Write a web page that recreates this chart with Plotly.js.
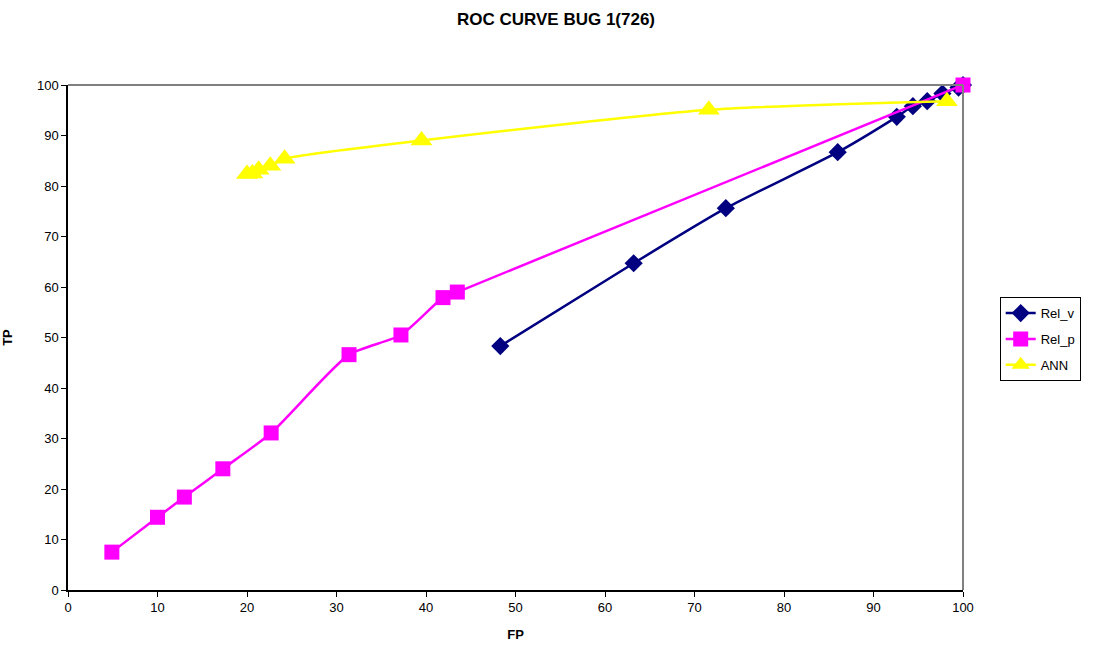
<!DOCTYPE html>
<html><head><meta charset="utf-8">
<script src="https://cdn.plot.ly/plotly-3.0.1.min.js"></script>
<style>body{margin:0;background:#fff}#c{width:1112px;height:649px}</style>
</head><body><div id="c"></div>
<script>
const relvFP = [48.3, 63.2, 73.5, 86.0, 92.6, 94.4, 96.0, 97.7, 99.5, 100];
const relvTP = [48.3, 64.7, 75.6, 86.7, 93.7, 95.8, 96.8, 98.3, 99.5, 100];
const relpFP = [4.9, 10.0, 13.0, 17.3, 22.7, 31.4, 37.2, 41.9, 43.5, 100];
const relpTP = [7.5, 14.4, 18.4, 24.0, 31.1, 46.6, 50.5, 57.9, 59.0, 100];
const annFP = [20.0, 20.6, 21.3, 22.6, 24.2, 39.5, 71.6, 98.2];
const annTP = [82.4, 82.5, 83.2, 84.0, 85.4, 89.0, 95.1, 96.8];
const seriesNames = ["Rel_v", "Rel_p", "ANN"];

const traces = [
  {x: relvFP, y: relvTP, name: seriesNames[0], legendgroup: 'a', mode: 'lines+markers', cliponaxis: false,
   line: {color: '#000080', width: 2.5, shape: 'spline', smoothing: 0.6},
   marker: {symbol: 'diamond', size: 14, color: '#000080'}},
  {x: relpFP, y: relpTP, name: seriesNames[1], legendgroup: 'b', mode: 'lines+markers', cliponaxis: false,
   line: {color: '#FF00FF', width: 2.5, shape: 'spline', smoothing: 0.6},
   marker: {symbol: 'square', size: 15, color: '#FF00FF'}},
  {x: annFP, y: annTP, name: seriesNames[2], legendgroup: 'c', mode: 'lines+markers', cliponaxis: false,
   line: {color: '#FFFF00', width: 2.5, shape: 'spline', smoothing: 0.6},
   marker: {symbol: 'triangle-up', size: 19, color: '#FFFF00'}}
];

const layout = {
  width: 1112, height: 649,
  margin: {l: 68, r: 149, t: 85, b: 59},
  paper_bgcolor: '#fff', plot_bgcolor: '#fff',
  font: {family: 'Liberation Sans, Arial, sans-serif', size: 13, color: '#000'},
  title: {text: '<b>ROC CURVE BUG 1(726)</b>', font: {size: 17}, x: 0.5, xanchor: 'center', y: 0.97, yanchor: 'middle'},
  xaxis: {range: [0, 100], dtick: 10, showgrid: false, zeroline: false, showline: true,
          linecolor: '#000', linewidth: 1.5, ticks: 'outside', ticklen: 5, tickcolor: '#000',
          title: {text: '<b>FP</b>', font: {size: 13}, standoff: 16}},
  yaxis: {range: [0, 100], dtick: 10, showgrid: false, zeroline: false, showline: true,
          linecolor: '#000', linewidth: 1.5, ticks: 'outside', ticklen: 5, tickcolor: '#000',
          title: {text: '<b>TP</b>', font: {size: 13}, standoff: 22}},
  showlegend: true,
  legend: {x: 1.041, y: 0.58, xanchor: 'left', yanchor: 'top', bordercolor: '#000', borderwidth: 1,
           font: {size: 13}, tracegroupgap: 6, itemwidth: 30},
  shapes: [
    {type: 'line', xref: 'paper', yref: 'paper', x0: 0, x1: 1, y0: 1, y1: 1, line: {color: '#808080', width: 2}},
    {type: 'line', xref: 'paper', yref: 'paper', x0: 1, x1: 1, y0: 0, y1: 1, line: {color: '#808080', width: 2}}
  ]
};
Plotly.newPlot('c', traces, layout, {displayModeBar: false});
</script></body></html>
